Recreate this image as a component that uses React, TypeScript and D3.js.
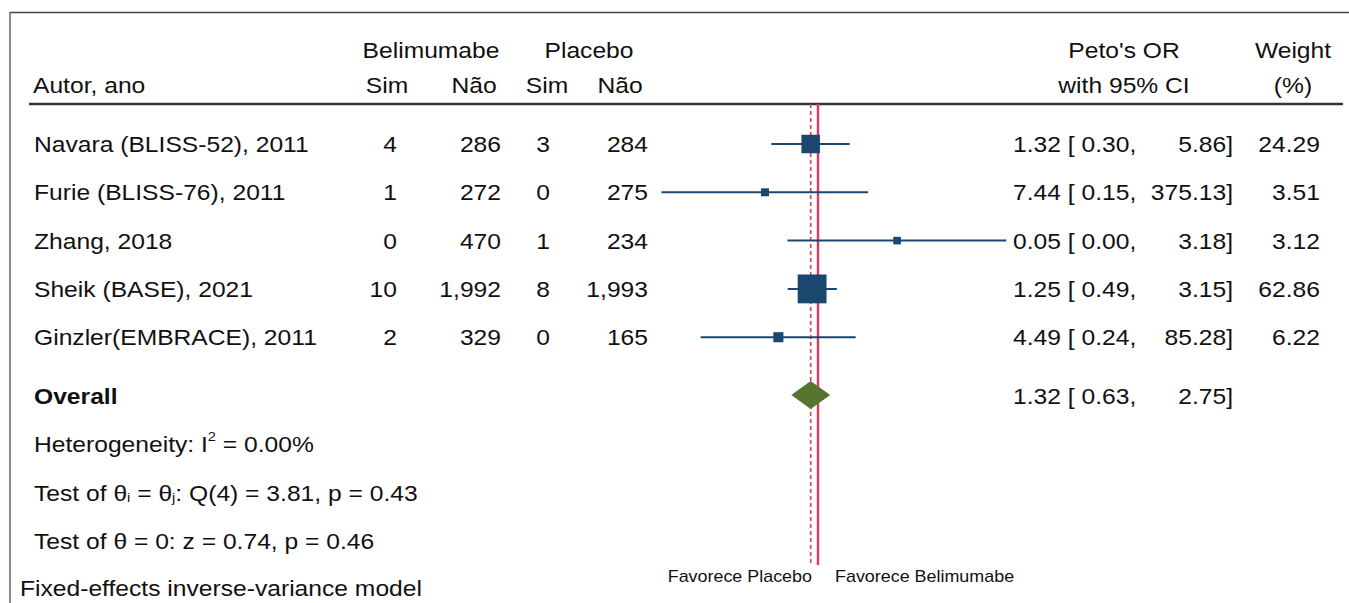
import * as d3 from "d3";

const STUDIES = [
  "Navara (BLISS-52), 2011",
  "Furie (BLISS-76), 2011",
  "Zhang, 2018",
  "Sheik (BASE), 2021",
  "Ginzler(EMBRACE), 2011",
];
const BELIM_SIM = [4, 1, 0, 10, 2];
const BELIM_NAO = [286, 272, 470, 1992, 329];
const PLAC_SIM = [3, 0, 1, 8, 0];
const PLAC_NAO = [284, 275, 234, 1993, 165];
const OR_EST = [1.32, 7.44, 0.05, 1.25, 4.49];
const OR_LOW = [0.3, 0.15, 0.0008, 0.49, 0.24];
const OR_HIGH = [5.86, 375.13, 3.18, 3.15, 85.28];
const WEIGHTS = [24.29, 3.51, 3.12, 62.86, 6.22];
const OVERALL = [1.32, 0.63, 2.75];

const W = 1349;
const H = 603;
const FONT = "'Liberation Sans', Arial, sans-serif";
const SX = 1.12; // text in the picture is a bit wider than plain Arial
const NAVY = "#1a476f";
const RED = "#e0385f";
const GREEN = "#55752f";

const ROW0 = 152;
const ROW_STEP = 48.3;

type TProps = {
  x: number;
  y: number;
  anchor?: "start" | "middle" | "end";
  size?: number;
  bold?: boolean;
  children: React.ReactNode;
};

const T = ({ x, y, anchor = "start", size = 22, bold, children }: TProps) => (
  <text
    transform={`translate(${x},${y}) scale(${SX},1)`}
    textAnchor={anchor}
    fontFamily={FONT}
    fontSize={size}
    fontWeight={bold ? "bold" : "normal"}
    fill="#111"
  >
    {children}
  </text>
);

export default function App() {
  const x = d3.scaleLog().domain([0.001, 1000]).range([1000.4, 635.6]);
  const side = d3.scaleSqrt().domain([0, 100]).range([0, 34.5]);
  const fmtN = d3.format(",");
  const f2 = (v: number) => v.toFixed(2);

  const rowY = STUDIES.map((_, i) => ROW0 + i * ROW_STEP);
  const ovY = 404;
  const lineTop = 104;
  const lineBottom = 565;

  return (
    <svg
      width={W}
      height={H}
      style={{ position: "absolute", left: 0, top: 0, background: "#fff" }}
    >
      <rect x={0} y={0} width={W} height={H} fill="#fff" />
      {/* frame */}
      <line x1={10} x2={W} y1={12.5} y2={12.5} stroke="#444" strokeWidth={1.5} />
      <line x1={10} x2={10} y1={12} y2={H} stroke="#666" strokeWidth={1.5} />

      {/* header */}
      <T x={431} y={57.5} anchor="middle">Belimumabe</T>
      <T x={589} y={57.5} anchor="middle">Placebo</T>
      <T x={1124} y={57.5} anchor="middle">Peto's OR</T>
      <T x={1293} y={57.5} anchor="middle">Weight</T>
      <T x={33} y={93}>Autor, ano</T>
      <T x={387} y={93} anchor="middle">Sim</T>
      <T x={474} y={93} anchor="middle">Não</T>
      <T x={547} y={93} anchor="middle">Sim</T>
      <T x={620} y={93} anchor="middle">Não</T>
      <T x={1124} y={93} anchor="middle">with 95% CI</T>
      <T x={1293} y={93} anchor="middle">(%)</T>
      <line x1={29} x2={1343} y1={104} y2={104} stroke="#333" strokeWidth={2.5} />

      {/* reference lines */}
      <line
        x1={x(1)}
        x2={x(1)}
        y1={lineTop}
        y2={lineBottom}
        stroke={RED}
        strokeWidth={2.4}
      />
      <line
        x1={x(OVERALL[0])}
        x2={x(OVERALL[0])}
        y1={lineTop}
        y2={lineBottom}
        stroke={RED}
        strokeWidth={1.6}
        strokeDasharray="4,3"
      />

      {/* study rows */}
      {STUDIES.map((s, i) => {
        const y = rowY[i];
        const cy = y - 8;
        const sz = side(WEIGHTS[i]) + 1.5;
        return (
          <g key={s}>
            <T x={34} y={y}>{s}</T>
            <T x={397} y={y} anchor="end">{fmtN(BELIM_SIM[i])}</T>
            <T x={501} y={y} anchor="end">{fmtN(BELIM_NAO[i])}</T>
            <T x={550} y={y} anchor="end">{fmtN(PLAC_SIM[i])}</T>
            <T x={648} y={y} anchor="end">{fmtN(PLAC_NAO[i])}</T>
            <line
              x1={x(OR_LOW[i])}
              x2={x(OR_HIGH[i])}
              y1={cy}
              y2={cy}
              stroke={NAVY}
              strokeWidth={2}
            />
            <rect
              x={x(OR_EST[i]) - sz / 2}
              y={cy - sz / 2}
              width={sz}
              height={sz}
              fill={NAVY}
            />
            <T x={1013} y={y}>{`${f2(OR_EST[i])} [ ${f2(OR_LOW[i])},`}</T>
            <T x={1233} y={y} anchor="end">{`${f2(OR_HIGH[i])}]`}</T>
            <T x={1320} y={y} anchor="end">{f2(WEIGHTS[i])}</T>
          </g>
        );
      })}

      {/* overall */}
      <T x={34} y={ovY} bold>Overall</T>
      <path
        d={`M${x(OVERALL[2])},${ovY - 9} L${x(OVERALL[0])},${ovY - 23} L${x(
          OVERALL[1]
        )},${ovY - 9} L${x(OVERALL[0])},${ovY + 5} Z`}
        fill={GREEN}
      />
      <T x={1013} y={ovY}>{`${f2(OVERALL[0])} [ ${f2(OVERALL[1])},`}</T>
      <T x={1233} y={ovY} anchor="end">{`${f2(OVERALL[2])}]`}</T>

      {/* stats */}
      <T x={34} y={452}>
        Heterogeneity: I
        <tspan dy={-11} fontSize={13}>2</tspan>
        <tspan dy={11}> = 0.00%</tspan>
      </T>
      <T x={34} y={501}>
        Test of θ
        <tspan fontSize={13} dy={1}>i</tspan>
        <tspan dy={-1}> = θ</tspan>
        <tspan fontSize={13} dy={1}>j</tspan>
        <tspan dy={-1}>: Q(4) = 3.81, p = 0.43</tspan>
      </T>
      <T x={34} y={549}>Test of θ = 0: z = 0.74, p = 0.46</T>
      <T x={20} y={596}>Fixed-effects inverse-variance model</T>

      <T x={812} y={582} anchor="end" size={16}>Favorece Placebo</T>
      <T x={835} y={582} size={16}>Favorece Belimumabe</T>
    </svg>
  );
}
